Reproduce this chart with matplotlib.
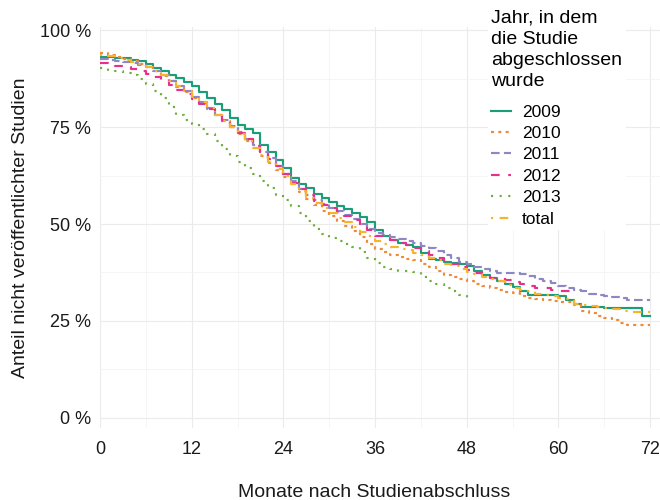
import numpy as np
import matplotlib
matplotlib.use("Agg")
import matplotlib.pyplot as plt
from matplotlib.ticker import MultipleLocator

plt.rcParams['font.family'] = ['Liberation Sans', 'DejaVu Sans']

# Anteil nicht veroeffentlichter Studien (%), je Monat nach Studienabschluss
y2009 = [93.0, 93.0, 92.8, 92.7, 92.3, 92.0, 91.2, 90.2, 89.4, 88.5,
         87.6, 86.6, 85.5, 84.0, 82.6, 81.0, 79.5, 77.4, 75.6, 74.6,
         73.4, 70.5, 68.5, 66.5, 64.5, 61.8, 60.2, 59.2, 57.8, 56.6,
         55.6, 54.6, 53.8, 52.8, 51.8, 50.4, 48.5, 46.8, 45.8, 45.2,
         44.6, 44.0, 42.5, 41.0, 40.6, 40.3, 40.0, 39.6, 39.2, 38.0,
         36.8, 36.0, 35.2, 34.5, 33.8, 32.8, 31.8, 31.7, 31.7, 31.7,
         31.5, 30.5, 29.5, 28.6, 28.5, 28.5, 28.4, 28.4, 28.3, 28.3,
         28.3, 26.3, 26.3]
y2010 = [94.0, 93.6, 93.0, 92.6, 92.0, 91.3, 90.4, 89.4, 88.2, 86.8,
         85.4, 84.0, 82.6, 81.2, 79.6, 78.0, 76.6, 75.0, 73.2, 71.4,
         69.6, 67.6, 65.8, 64.0, 62.2, 60.2, 58.2, 56.4, 54.8, 53.4,
         52.0, 50.8, 49.6, 48.2, 46.6, 44.8, 43.6, 42.8, 42.0, 41.4,
         41.0, 40.7, 39.8, 38.8, 37.8, 36.9, 36.3, 35.8, 35.2, 34.6,
         34.0, 33.5, 33.0, 32.5, 32.2, 31.5, 31.0, 30.6, 30.4, 30.2,
         30.0, 30.0, 29.2, 27.5, 27.0, 26.3, 25.8, 25.2, 24.5, 24.0,
         24.0, 24.0, 24.0]
y2011 = [92.5, 92.3, 92.0, 91.8, 91.5, 91.0, 90.4, 89.4, 88.4, 87.0,
         85.6, 84.2, 82.8, 81.4, 79.8, 78.2, 76.8, 75.2, 73.6, 72.0,
         70.4, 68.6, 67.0, 65.0, 63.0, 61.0, 59.0, 57.4, 56.2, 55.2,
         54.2, 53.4, 52.4, 51.2, 50.0, 48.6, 47.8, 47.2, 46.6, 46.2,
         45.6, 45.0, 44.4, 43.8, 43.0, 42.0, 41.2, 40.3, 39.6, 39.0,
         38.4, 37.8, 37.4, 37.4, 37.4, 37.2, 36.5, 35.8, 35.4, 34.8,
         34.0, 33.6, 33.0, 32.6, 32.0, 31.8, 31.5, 31.2, 30.8, 30.4,
         30.4, 30.4, 30.4]
y2012 = [91.5, 91.2, 90.8, 90.5, 90.0, 89.5, 88.8, 88.0, 87.0, 85.8,
         84.6, 83.4, 82.2, 81.0, 79.6, 78.0, 76.6, 75.0, 73.4, 71.8,
         70.2, 68.6, 66.8, 65.0, 62.8, 60.6, 59.0, 57.4, 56.0, 55.0,
         54.0, 53.0, 52.0, 51.0, 49.8, 48.4, 47.0, 46.4, 45.8, 45.2,
         44.6, 43.8, 43.0, 42.0, 41.2, 40.4, 39.8, 39.0, 38.2, 37.4,
         36.6, 36.2, 36.0, 35.5, 35.0, 34.6, 34.0, 33.6, 33.5, 33.0,
         32.8, 32.7, 32.7]
y2013 = [90.2, 89.8, 89.4, 89.0, 88.3, 87.4, 86.2, 84.4, 82.4, 80.2,
         78.2, 76.8, 75.8, 74.6, 73.2, 71.4, 69.4, 67.6, 66.0, 64.4,
         62.8, 61.0, 59.2, 57.6, 56.2, 54.6, 52.8, 50.8, 48.8, 47.4,
         46.4, 45.6, 44.8, 44.0, 42.8, 41.2, 40.0, 39.0, 38.4, 38.0,
         37.8, 37.5, 36.4, 35.4, 34.6, 33.6, 32.8, 31.6, 30.8]
ytotal = [93.5, 93.2, 92.8, 92.4, 91.9, 91.2, 90.4, 89.4, 88.4, 87.0,
          85.6, 84.2, 82.8, 81.4, 79.8, 78.2, 76.6, 75.0, 73.2, 71.4,
          69.6, 67.8, 66.0, 64.2, 62.4, 60.4, 58.6, 56.8, 55.4, 54.0,
          52.8, 51.6, 50.4, 49.2, 48.0, 46.8, 45.6, 44.8, 44.2, 43.6,
          43.2, 42.6, 42.0, 41.3, 40.6, 39.8, 39.2, 38.4, 37.6, 37.0,
          36.4, 35.8, 35.2, 34.4, 33.6, 33.0, 32.6, 32.0, 31.8, 31.4,
          31.0, 30.6, 29.5, 29.0, 28.8, 28.6, 28.4, 28.0, 27.6, 27.4,
          27.3, 27.3, 27.3]

labels = ['2009', '2010', '2011', '2012', '2013', 'total']
series = [y2009, y2010, y2011, y2012, y2013, ytotal]
colors = ['#1B9E77', '#EF8A3A', '#8D87C4', '#E7308A', '#6FAE3C', '#F7B32B']
styles = ['-', (0, (1.4, 2.0)), (0, (4, 2)), (0, (4, 4)), (0, (1, 3)),
          (0, (1, 3, 4, 3))]

fig = plt.figure(figsize=(6.6, 5), dpi=100)
ax = fig.add_axes([100 / 660, 1 - 428 / 500, 560 / 660, 401 / 500])

for lab, ys, c, ls in zip(labels, series, colors, styles):
    months = np.arange(len(ys))
    ax.plot(months, np.array(ys) / 100, drawstyle='steps-post', color=c,
            linestyle=ls, linewidth=1.55, label=lab)

ax.set_xlim(0, 73.3)
ax.set_ylim(-0.026, 1.008)
ax.set_xticks(np.arange(0, 73, 12))
ax.set_yticks([0, 0.25, 0.5, 0.75, 1.0])
ax.set_yticklabels(['0 %', '25 %', '50 %', '75 %', '100 %'])
ax.xaxis.set_minor_locator(MultipleLocator(6))
ax.yaxis.set_minor_locator(MultipleLocator(0.125))
ax.grid(True, which='major', color='#EBEBEB', linewidth=0.8)
ax.grid(True, which='minor', color='#F4F4F4', linewidth=0.6)
ax.set_axisbelow(True)
for s in ax.spines.values():
    s.set_visible(False)
ax.tick_params(which='both', length=0)
ax.tick_params(axis='y', pad=6.5, labelsize=13, labelcolor='#1a1a1a')
ax.tick_params(axis='x', pad=9, labelsize=13, labelcolor='#1a1a1a')

ax.set_xlabel('Monate nach Studienabschluss', fontsize=14, color='#1a1a1a')
ax.set_ylabel('Anteil nicht veröffentlichter Studien', fontsize=14,
              color='#1a1a1a')
ax.xaxis.set_label_coords(0.49, -0.14)
ax.yaxis.set_label_coords(-0.127, 0.5)

leg = ax.legend(title='Jahr, in dem\ndie Studie\nabgeschlossen\nwurde',
                loc='upper left', bbox_to_anchor=(488 / 660, 1 - 6 / 500),
                bbox_transform=fig.transFigure, fontsize=12.5,
                title_fontsize=14, frameon=True, facecolor='white',
                edgecolor='none', framealpha=1, borderpad=0.2,
                borderaxespad=0, handlelength=1.15, handletextpad=0.6,
                labelspacing=0.36, alignment='left')
leg.get_frame().set_boxstyle('square', pad=0)
leg.get_title().set_linespacing(1.32)
leg._legend_box.sep = 0.36 * 12.5 + 6

fig.savefig('out.png', dpi=100)
